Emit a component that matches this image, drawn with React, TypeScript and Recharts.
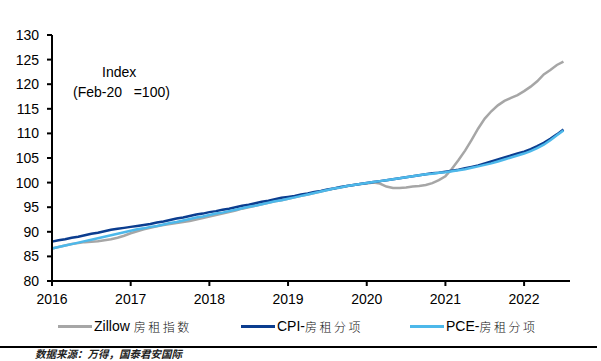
import React from "react";
import { LineChart, Line, XAxis, YAxis } from "recharts";

// Monthly observations, Jan 2016 .. Jul 2022
const MONTHS: string[] = [];
for (let y = 2016; y <= 2022; y++) {
  for (let m = 1; m <= 12; m++) {
    if (y === 2022 && m > 7) break;
    MONTHS.push(`${y}-${String(m).padStart(2, "0")}`);
  }
}

const ZILLOW = [
  86.6, 86.9, 87.2, 87.5, 87.7, 87.9, 88.0, 88.1, 88.3, 88.5, 88.8, 89.2,
  89.7, 90.1, 90.5, 90.8, 91.1, 91.4, 91.6, 91.8, 92.0, 92.2, 92.5, 92.8,
  93.1, 93.4, 93.7, 94.0, 94.3, 94.7, 95.0, 95.3, 95.6, 95.9, 96.2, 96.4,
  96.7, 97.0, 97.3, 97.6, 97.9, 98.2, 98.5, 98.8, 99.0, 99.3, 99.5, 99.7,
  99.8, 100.0, 99.8, 99.2, 98.9, 98.9, 99.0, 99.2, 99.3, 99.5, 99.9, 100.5,
  101.3, 102.8, 104.6, 106.5, 108.7, 111.0, 113.0, 114.5, 115.7, 116.6, 117.2, 117.8,
  118.6, 119.5, 120.6, 122.0, 122.9, 123.9, 124.6,
];

const CPI = [
  88.0, 88.3, 88.5, 88.8, 89.0, 89.3, 89.6, 89.8, 90.1, 90.4, 90.6, 90.8,
  91.0, 91.2, 91.4, 91.6, 91.9, 92.1, 92.4, 92.7, 92.9, 93.2, 93.5, 93.7,
  94.0, 94.2, 94.5, 94.7, 95.0, 95.3, 95.5, 95.8, 96.1, 96.3, 96.6, 96.9,
  97.1, 97.3, 97.6, 97.8, 98.1, 98.3, 98.6, 98.8, 99.1, 99.3, 99.5, 99.7,
  99.9, 100.1, 100.3, 100.5, 100.7, 100.9, 101.1, 101.3, 101.5, 101.7, 101.9, 102.0,
  102.2, 102.4, 102.6, 102.9, 103.2, 103.5, 103.9, 104.3, 104.7, 105.1, 105.5, 105.9,
  106.3, 106.8, 107.4, 108.1, 108.9, 109.8, 110.8,
];

const PCE = [
  86.6, 86.9, 87.2, 87.5, 87.8, 88.1, 88.4, 88.7, 89.0, 89.3, 89.6, 89.9,
  90.2, 90.5, 90.7, 91.0, 91.2, 91.5, 91.8, 92.0, 92.3, 92.6, 92.9, 93.1,
  93.4, 93.7, 93.9, 94.2, 94.5, 94.8, 95.1, 95.3, 95.6, 95.9, 96.2, 96.4,
  96.7, 97.0, 97.3, 97.6, 97.9, 98.2, 98.5, 98.8, 99.0, 99.3, 99.5, 99.7,
  99.9, 100.1, 100.3, 100.5, 100.7, 100.9, 101.1, 101.3, 101.5, 101.7, 101.8, 102.0,
  102.1, 102.3, 102.5, 102.7, 103.0, 103.3, 103.6, 103.9, 104.3, 104.7, 105.1, 105.5,
  105.9, 106.4, 107.0, 107.7, 108.6, 109.6, 110.6,
];

const YEAR_LABELS = ["2016", "2017", "2018", "2019", "2020", "2021", "2022"];
const X_TICKS = YEAR_LABELS.map((_, i) => i * 12);
const Y_TICKS = [80, 85, 90, 95, 100, 105, 110, 115, 120, 125, 130];

const SERIES_NAMES = ["Zillow", "房租指数", "CPI-", "房租分项", "PCE-", "房租分项"];

const data = MONTHS.map((m, i) => ({
  t: i,
  month: m,
  zillow: ZILLOW[i],
  cpi: CPI[i],
  pce: PCE[i],
}));

const C_GRAY = "#A6A6A6";
const C_DARK = "#0B3D8F";
const C_LIGHT = "#4DB8EA";

const LATIN = "'Liberation Sans', Arial, sans-serif";
const CJK = "'Noto Sans CJK SC', sans-serif";

function LegendItem(props: { left: number; color: string; latin: string; cjk: string; gap: number }) {
  return (
    <div style={{ position: "absolute", left: props.left, top: 317, height: 18, display: "flex", alignItems: "center", whiteSpace: "nowrap" }}>
      <div style={{ width: 34, height: 3, background: props.color, marginRight: 2 }} />
      <span style={{ fontFamily: LATIN, fontSize: 14, color: "#000" }}>{props.latin}</span>
      <span style={{ fontFamily: CJK, fontSize: 12, letterSpacing: 2.5, color: "#111", marginLeft: props.gap, fontWeight: 300 }}>{props.cjk}</span>
    </div>
  );
}

export default function App() {
  return (
    <div style={{ position: "absolute", left: 0, top: 0, width: 601, height: 361, background: "#fff", overflow: "hidden" }}>
      <LineChart width={601} height={361} data={data} margin={{ top: 35, right: 31, bottom: 50, left: 0 }}>
        <XAxis
          dataKey="t"
          type="number"
          domain={[0, 79]}
          ticks={X_TICKS}
          interval={0}
          tickFormatter={(v: number) => YEAR_LABELS[Math.round(v / 12)]}
          axisLine={{ stroke: "#000", strokeWidth: 2 }}
          tickLine={{ stroke: "#000", strokeWidth: 2 }}
          tickSize={5}
          tickMargin={8}
          height={30}
          tick={{ fill: "#000", fontSize: 14, fontFamily: LATIN }}
        />
        <YAxis
          type="number"
          domain={[80, 130]}
          ticks={Y_TICKS}
          interval={0}
          width={52}
          axisLine={{ stroke: "#000", strokeWidth: 2 }}
          tickLine={{ stroke: "#000", strokeWidth: 2 }}
          tickSize={5}
          tickMargin={8}
          tick={{ fill: "#000", fontSize: 14, fontFamily: LATIN }}
        />
        <Line type="linear" dataKey="zillow" stroke={C_GRAY} strokeWidth={2.5} dot={false} isAnimationActive={false} />
        <Line type="linear" dataKey="cpi" stroke={C_DARK} strokeWidth={2.5} dot={false} isAnimationActive={false} />
        <Line type="linear" dataKey="pce" stroke={C_LIGHT} strokeWidth={2.5} dot={false} isAnimationActive={false} />
      </LineChart>

      <div style={{ position: "absolute", left: 102, top: 62, fontFamily: LATIN, fontSize: 14, color: "#000", lineHeight: "20px", whiteSpace: "pre" }}>
        Index
      </div>
      <div style={{ position: "absolute", left: 73, top: 82, fontFamily: LATIN, fontSize: 14, color: "#000", lineHeight: "20px", whiteSpace: "pre" }}>
        {"(Feb-20   =100)"}
      </div>

      <LegendItem left={58} color={C_GRAY} latin={SERIES_NAMES[0]} cjk={SERIES_NAMES[1]} gap={4} />
      <LegendItem left={241} color={C_DARK} latin={SERIES_NAMES[2]} cjk={SERIES_NAMES[3]} gap={0} />
      <LegendItem left={410} color={C_LIGHT} latin={SERIES_NAMES[4]} cjk={SERIES_NAMES[5]} gap={0} />

      <div style={{ position: "absolute", left: 0, top: 346, width: 597, height: 1.5, background: "#000" }} />
      <div style={{ position: "absolute", left: 35, top: 347, fontFamily: CJK, fontSize: 10.5, fontWeight: 700, fontStyle: "italic", color: "#222", whiteSpace: "nowrap", lineHeight: "14px" }}>
        数据来源：万得，国泰君安国际
      </div>
    </div>
  );
}
